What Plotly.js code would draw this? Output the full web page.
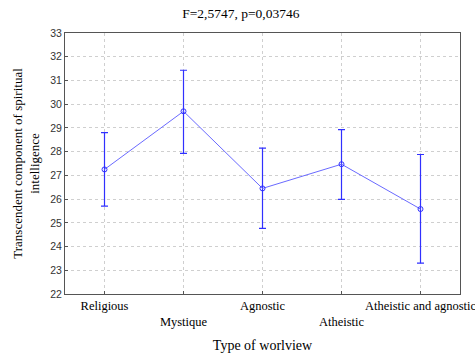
<!DOCTYPE html>
<html>
<head>
<meta charset="utf-8">
<script src="https://cdn.plot.ly/plotly-3.0.1.min.js"></script>
<style>html,body{margin:0;padding:0;background:#fff;}#chart{width:475px;height:355px;}</style>
</head>
<body>
<div id="chart"></div>
<script>
const categories = ["Religious", "Mystique", "Agnostic", "Atheistic", "Atheistic and agnostic"];
const tickLabels = ["Religious", "<br>Mystique", "Agnostic", "<br>Atheistic", "Atheistic and agnostic"];
const means = [27.25, 29.7, 26.45, 27.47, 25.58];
const upper = [28.8, 31.43, 28.15, 28.93, 27.88];
const lower = [25.7, 27.93, 24.77, 25.99, 23.3];

const xIdx = categories.map((c, i) => i);
const errPlus = upper.map((u, i) => u - means[i]);
const errMinus = means.map((m, i) => m - lower[i]);

const serif = "Liberation Serif, Times New Roman, serif";
const sans = "Liberation Sans, Arial, sans-serif";

const trace = {
  x: xIdx,
  y: means,
  type: "scatter",
  mode: "lines+markers",
  line: {color: "#6a6aff", width: 1},
  marker: {symbol: "circle-open", size: 5, color: "#3333ff", line: {width: 1}},
  error_y: {type: "data", symmetric: false, array: errPlus, arrayminus: errMinus,
            color: "#3030ff", thickness: 1.2, width: 3.5},
  hoverinfo: "none"
};

const layout = {
  width: 475, height: 355,
  margin: {l: 65, r: 15, t: 33, b: 61},
  paper_bgcolor: "#fff", plot_bgcolor: "#fff",
  showlegend: false,
  title: {text: "F=2,5747, p=0,03746", font: {family: serif, size: 13.5, color: "#000"},
          x: 0.507, xanchor: "center", xref: "container", y: 0.963, yanchor: "middle", yref: "container"},
  xaxis: {
    range: [-0.5, 4.5], tickmode: "array", tickvals: xIdx, ticktext: tickLabels,
    tickfont: {family: serif, size: 12.5, color: "#000"},
    tickangle: 0, ticklabeloverflow: "allow",
    ticks: "inside", ticklen: 3, tickcolor: "#555",
    showgrid: true, gridcolor: "#cfcfcf", griddash: "dot", gridwidth: 1,
    showline: true, linecolor: "#555", linewidth: 1, mirror: true, zeroline: false,
    title: {text: "Type of worlview", font: {family: serif, size: 14, color: "#000"}, standoff: 11}
  },
  yaxis: {
    range: [22, 33], dtick: 1, tick0: 22,
    tickfont: {family: sans, size: 10.5, color: "#333"},
    ticks: "inside", ticklen: 3, tickcolor: "#555",
    showgrid: true, gridcolor: "#cfcfcf", griddash: "dot", gridwidth: 1,
    showline: true, linecolor: "#555", linewidth: 1, mirror: true, zeroline: false,
    title: {text: "Transcendent component of spiritual<br>intelligence", font: {family: serif, size: 13, color: "#000"}, standoff: 7}
  }
};

Plotly.newPlot("chart", [trace], layout, {staticPlot: true, displayModeBar: false});
</script>
</body>
</html>
